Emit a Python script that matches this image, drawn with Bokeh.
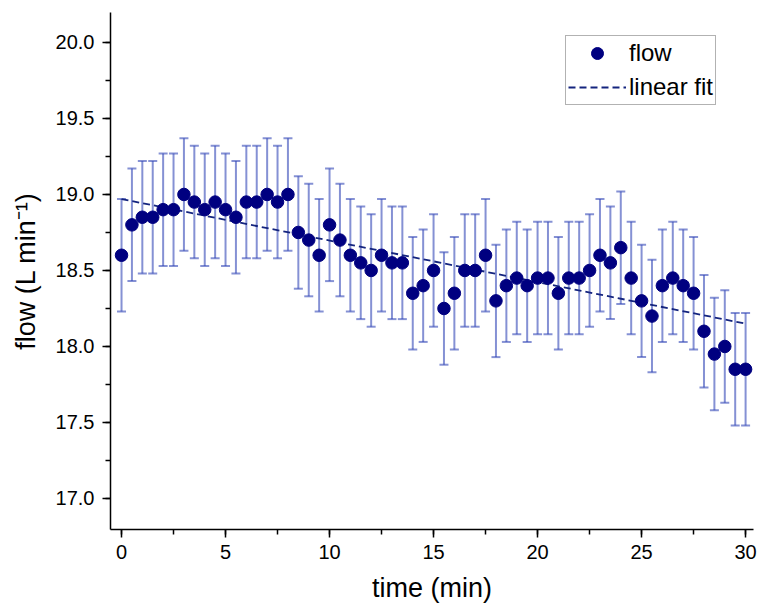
from bokeh.plotting import figure
from bokeh.models import (ColumnDataSource, Whisker, TeeHead, SingleIntervalTicker,
                          NumeralTickFormatter, Range1d, Legend, LegendItem)
from bokeh.embed import file_html
from bokeh.resources import INLINE

time_min = [i * 0.5 for i in range(61)]
flow = [18.6, 18.8, 18.85, 18.85, 18.9, 18.9, 19.0, 18.95, 18.9, 18.95,
        18.9, 18.85, 18.95, 18.95, 19.0, 18.95, 19.0, 18.75, 18.7, 18.6,
        18.8, 18.7, 18.6, 18.55, 18.5, 18.6, 18.55, 18.55, 18.35, 18.4,
        18.5, 18.25, 18.35, 18.5, 18.5, 18.6, 18.3, 18.4, 18.45, 18.4,
        18.45, 18.45, 18.35, 18.45, 18.45, 18.5, 18.6, 18.55, 18.65, 18.45,
        18.3, 18.2, 18.4, 18.45, 18.4, 18.35, 18.1, 17.95, 18.0, 17.85,
        17.85]
flow_err = [0.37] * 61
fit_x = [0, 30]
fit_y = [18.97, 18.15]

FONT = "Liberation Sans"

src = ColumnDataSource(data=dict(
    x=time_min, y=flow,
    upper=[v + e for v, e in zip(flow, flow_err)],
    lower=[v - e for v, e in zip(flow, flow_err)],
))

p = figure(frame_width=643, frame_height=517, output_backend="svg", toolbar_location=None,
           x_range=Range1d(-0.53, 30.38), y_range=Range1d(16.796, 20.197),
           min_border_left=110, min_border_right=4, min_border_top=12, min_border_bottom=78)
p.outline_line_color = None
p.xgrid.visible = False
p.ygrid.visible = False
p.background_fill_color = "white"
p.border_fill_color = "white"

err_color = "#3448b8"
w = Whisker(base="x", upper="upper", lower="lower", source=src,
            line_color=err_color, line_alpha=0.6, line_width=2,
            upper_head=TeeHead(size=9, line_color=err_color, line_alpha=0.6, line_width=2),
            lower_head=TeeHead(size=9, line_color=err_color, line_alpha=0.6, line_width=2))
p.add_layout(w)

fit = p.line(fit_x, fit_y, line_color="#14247e", line_width=1.8, line_dash="7 4")
pts = p.scatter("x", "y", source=src, size=12.5, fill_color="#000080", line_color="#000080")

for ax in (p.xaxis[0], p.yaxis[0]):
    ax.axis_line_width = 1.5
    ax.axis_line_color = "black"
    ax.major_tick_line_color = "black"
    ax.minor_tick_line_color = "black"
    ax.major_tick_line_width = 1.5
    ax.minor_tick_line_width = 1.5
    ax.major_tick_out = 8
    ax.major_tick_in = 0
    ax.minor_tick_out = 5
    ax.minor_tick_in = 0
    ax.major_label_text_font = FONT
    ax.major_label_text_font_size = "20px"
    ax.major_label_text_color = "black"
    ax.axis_label_text_font = FONT
    ax.axis_label_text_font_size = "27px"
    ax.axis_label_text_font_style = "normal"
    ax.axis_label_text_color = "black"

p.xaxis.ticker = SingleIntervalTicker(interval=5, num_minor_ticks=2)
p.yaxis.ticker = SingleIntervalTicker(interval=0.5, num_minor_ticks=2)
p.yaxis.formatter = NumeralTickFormatter(format="0.0")
p.xaxis.axis_label = "time (min)"
p.yaxis.axis_label = "flow (L min\u207b\u00b9)"
p.xaxis.major_label_standoff = 7
p.yaxis.major_label_standoff = 8
p.xaxis.axis_label_standoff = 11
p.yaxis.axis_label_standoff = 12

legend = Legend(items=[LegendItem(label="flow", renderers=[pts]),
                       LegendItem(label="linear fit", renderers=[fit])],
                location=(455, 424))
legend.label_text_font = FONT
legend.label_text_font_size = "24px"
legend.label_text_color = "black"
legend.glyph_width = 58
legend.glyph_height = 30
legend.label_height = 30
legend.spacing = 4
legend.padding = 2
legend.margin = 0
legend.label_standoff = 3
legend.border_line_color = "#666666"
legend.border_line_width = 1
legend.background_fill_alpha = 1
p.add_layout(legend)

open("out.html", "w").write(file_html(p, INLINE))
